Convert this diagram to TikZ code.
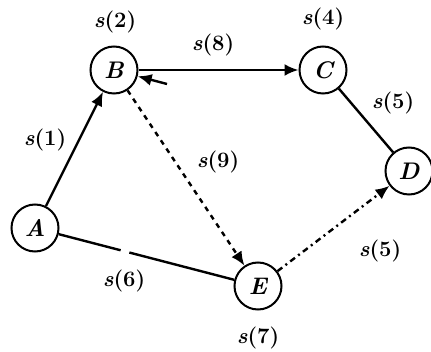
\documentclass[tikz,border=0pt]{standalone}
\usetikzlibrary{arrows.meta}
\begin{document}
\begin{tikzpicture}[x=1pt,y=-1pt,
  vtx/.style={circle,draw,line width=2pt,minimum size=47pt,inner sep=0pt,font=\fontsize{24}{26}\selectfont\bfseries\itshape},
  lbl/.style={font=\fontsize{22}{24}\selectfont\bfseries},
  edge/.style={line width=2.4pt,-{Latex[length=14pt,width=12pt]}},
  plain/.style={line width=2.4pt},
  dsh/.style={line width=2.4pt,dash pattern=on 5pt off 5pt}]
\useasboundingbox (0,0) rectangle (431,352);
\node[vtx] (A) at (35,228) {A};
\node[vtx] (B) at (114,70) {B};
\node[vtx] (C) at (323,70) {C};
\node[vtx] (D) at (409,171) {D};
\node[vtx] (E) at (258,286) {E};
\node[lbl] (lB) at (115,22) {\textit{s}(2)};
\node[lbl] (lC) at (323,19) {\textit{s}(4)};
\node[lbl] (lAB) at (45,140) {\textit{s}(1)};
\node[lbl] (lBC) at (213,45) {\textit{s}(8)};
\node[lbl] (lCD) at (393,103) {\textit{s}(5)};
\node[lbl] (lBE) at (218,162) {\textit{s}(9)};
\node[lbl] (lAE) at (124,281) {\textit{s}(6)};
\node[lbl] (lED) at (380,251) {\textit{s}(5)};
\node[lbl] (lE) at (258,338) {\textit{s}(7)};
\coordinate (bt) at (167,84);
\draw[edge] (A) -- (B);
\draw[edge] (B) -- (C);
\draw[plain] (C) -- (D);
\draw[edge] (bt) -- (B);
\draw[edge,dsh] (B) -- (E);
\draw[plain,dash pattern=on 64pt off 9pt on 200pt] (A) -- (E);
\draw[edge,dash pattern=on 6pt off 4pt on 2pt off 4pt] (E) -- (D);
\end{tikzpicture}
\end{document}
